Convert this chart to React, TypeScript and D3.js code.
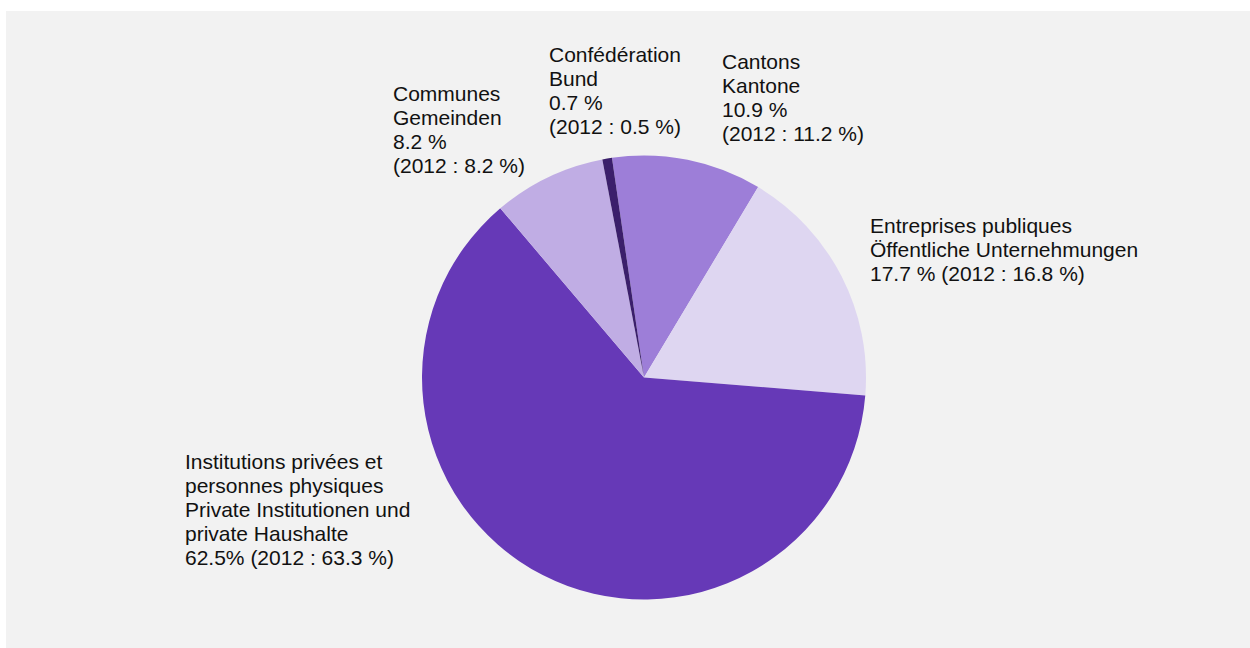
import React from "react";
import * as d3 from "d3";

// shares in %, clockwise starting from the Cantons slice
const categories = ["Cantons", "Entreprises", "Institutions", "Communes", "Confederation"];
const shares = [10.9, 17.7, 62.5, 8.2, 0.7];
const labelLines = [
    ["Cantons", "Kantone", "10.9 %", "(2012 : 11.2 %)"],
    ["Entreprises publiques", "Öffentliche Unternehmungen", "17.7 % (2012 : 16.8 %)"],
    ["Institutions privées et", "personnes physiques", "Private Institutionen und", "private Haushalte", "62.5% (2012 : 63.3 %)"],
    ["Communes", "Gemeinden", "8.2 %", "(2012 : 8.2 %)"],
    ["Confédération", "Bund", "0.7 %", "(2012 : 0.5 %)"],
];

const colors = ["#9d7ed8", "#ded6f1", "#6639b7", "#c0ade4", "#3b1f6b"];
// top-left baseline of each label block
const labelPos = [
    [722, 69],
    [870, 233],
    [185, 469],
    [393, 101],
    [549, 62],
];

const W = 1250;
const H = 648;
const cx = 644;
const cy = 377.5;
const radius = 222;
const startDeg = -8.3;

export default function App() {
    const pie = d3.pie<number>()
        .sort(null)
        .value((d) => d)
        .startAngle((startDeg * Math.PI) / 180)
        .endAngle(((startDeg + 360) * Math.PI) / 180);
    const arcs = pie(shares);
    const arc = d3.arc<d3.PieArcDatum<number>>().innerRadius(0).outerRadius(radius);

    return (
        <svg width={W} height={H} style={{ position: "absolute", left: 0, top: 0 }}>
            <rect x={6} y={11} width={W - 6} height={H - 11} fill="#f2f2f2" />
            <g transform={`translate(${cx},${cy})`}>
                {arcs.map((a, i) => (
                    <path key={categories[i]} d={arc(a) || ""} fill={colors[i]} />
                ))}
            </g>
            {labelLines.map((lines, i) => (
                <text
                    key={categories[i]}
                    x={labelPos[i][0]}
                    y={labelPos[i][1]}
                    fontFamily="'Liberation Sans', Arial, sans-serif"
                    fontSize={21}
                    fill="#111"
                >
                    {lines.map((l, j) => (
                        <tspan key={j} x={labelPos[i][0]} dy={j === 0 ? 0 : 24}>
                            {l}
                        </tspan>
                    ))}
                </text>
            ))}
        </svg>
    );
}
